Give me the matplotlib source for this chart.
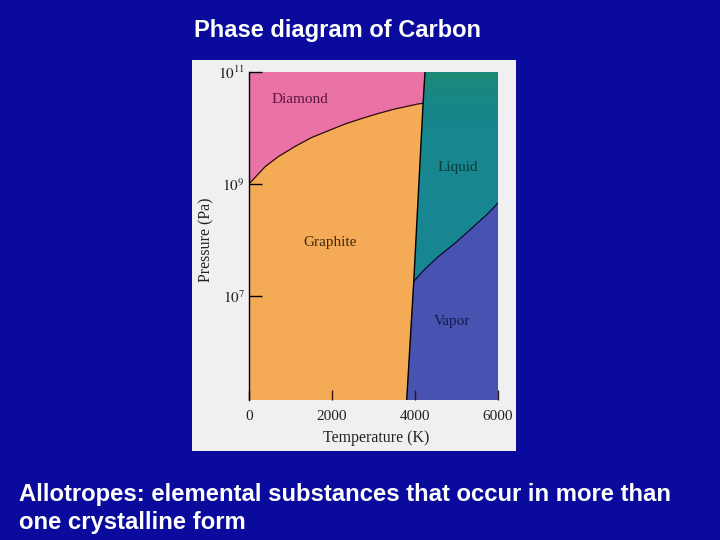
import numpy as np
import matplotlib
matplotlib.use("Agg")
import matplotlib.pyplot as plt
from matplotlib.patches import Polygon, Rectangle

# -------------------------
# data (temperature in K, log10 of pressure in Pa)
T_diamond = [0, 390, 710, 1110, 1510, 1910, 2310, 2720, 3120, 3520, 4080, 4195]
logP_diamond = [9.0, 9.31, 9.49, 9.67, 9.83, 9.95, 10.07, 10.17, 10.26, 10.34, 10.43, 10.44]

T_melt = [4241, 4195, 3970]
logP_melt = [11.0, 10.44, 7.26]

T_vapor = [3970, 4240, 4560, 4960, 5370, 5770, 6000]
logP_vapor = [7.26, 7.48, 7.70, 7.94, 8.21, 8.48, 8.66]

T_sublim_bottom = 3800  # where the graphite/vapor line meets the bottom

phase_names = ["Diamond", "Graphite", "Liquid", "Vapor"]
label_T = [1230, 1950, 5040, 4890]
label_logP = [10.50, 7.95, 9.29, 6.54]

xticks = [0, 2000, 4000, 6000]
yticks_exp = [7, 9, 11]

# -------------------------
bg = "#0A0A9C"
panel = "#F0F0F3"
c_diamond = "#EA72A4"
c_graphite = "#F5AA55"
c_liquid = "#178784"
c_vapor = "#4852B0"

plt.rcParams["font.family"] = ["Liberation Serif", "DejaVu Serif"]
plt.rcParams["mathtext.fontset"] = "stix"

fig = plt.figure(figsize=(7.2, 5.4), dpi=100, facecolor=bg)

# light panel behind the diagram
fig.patches.append(Rectangle((192 / 720, 1 - 451 / 540), 324 / 720, 391 / 540,
                             transform=fig.transFigure, facecolor=panel,
                             edgecolor="none", zorder=-5))

ax = fig.add_axes([249 / 720, 1 - 400 / 540, 249 / 720, 328 / 540])
ax.set_facecolor("none")
ax.set_zorder(2)

P_low = 10 ** 5.14
P_top = 1e11
Pd = [10 ** v for v in logP_diamond]
Pm = [10 ** v for v in logP_melt]
Pv = [10 ** v for v in logP_vapor]

# graphite
graphite = [(0, P_low)] + list(zip(T_diamond, Pd)) + [(T_melt[2], Pm[2]), (T_sublim_bottom, P_low)]
ax.add_patch(Polygon(graphite, closed=True, facecolor=c_graphite, edgecolor="none"))
# diamond
diamond = list(zip(T_diamond, Pd)) + [(T_melt[0], P_top), (0, P_top)]
ax.add_patch(Polygon(diamond, closed=True, facecolor=c_diamond, edgecolor="none"))
# liquid (with a slight vertical colour gradient)
liquid = [(T_melt[0], Pm[0]), (T_melt[1], Pm[1]), (T_melt[2], Pm[2])] + list(zip(T_vapor, Pv))[1:] + [(6000, P_top)]
liq_patch = Polygon(liquid, closed=True, facecolor=c_liquid, edgecolor="none")
ax.add_patch(liq_patch)
grad = np.linspace(0, 1, 100).reshape(-1, 1)
cmap = matplotlib.colors.LinearSegmentedColormap.from_list("liq", ["#178690", "#1C8A70"])
im = ax.imshow(grad, cmap=cmap, aspect="auto", origin="lower",
               extent=(3900, 6000, 10 ** 7.2, P_top), zorder=1)
im.set_clip_path(liq_patch)
# vapor
vapor = list(zip(T_vapor, Pv)) + [(6000, P_low), (T_sublim_bottom, P_low)]
ax.add_patch(Polygon(vapor, closed=True, facecolor=c_vapor, edgecolor="none", zorder=1))

# phase boundaries
ax.plot(T_diamond, Pd, color="#2a0a10", lw=0.9, zorder=3)
ax.plot(T_melt, Pm, color="black", lw=1.0, zorder=3)
ax.plot([T_melt[2], T_sublim_bottom], [Pm[2], P_low], color="black", lw=1.0, zorder=3)
ax.plot(T_vapor, Pv, color="#0a0a30", lw=0.9, zorder=3)

label_colors = ["#5A1840", "#3A2A12", "#0A3A3A", "#101A50"]
for name, t, lp, c in zip(phase_names, label_T, label_logP, label_colors):
    ax.text(t, 10 ** lp, name, fontsize=11, color=c, ha="center", va="center", zorder=4)

ax.set_xlim(0, 6000)
ax.set_yscale("log")
ax.set_ylim(P_low, P_top)

ax.set_xticks(xticks)
ax.set_xticklabels([str(v) for v in xticks])
ax.set_yticks([10.0 ** e for e in yticks_exp])
ax.set_yticklabels([r"$10^{%d}$" % e for e in yticks_exp])
ax.yaxis.set_minor_locator(matplotlib.ticker.NullLocator())
ax.tick_params(axis="x", direction="in", length=7, width=1, color="#3a1010",
               labelsize=11, labelcolor="#222222", pad=7)
ax.tick_params(axis="y", direction="in", length=9, width=1, color="black",
               labelsize=11, labelcolor="#222222", pad=3)

for s in ["top", "right", "bottom"]:
    ax.spines[s].set_visible(False)
ax.spines["left"].set_color("black")
ax.spines["left"].set_linewidth(1.0)
ax.spines["left"].set_zorder(5)

ax.set_xlabel("Temperature (K)", fontsize=11.5, color="#222222")
ax.xaxis.set_label_coords(0.51, -0.09)
ax.set_ylabel("Pressure (Pa)", fontsize=11.5, color="#222222")
ax.yaxis.set_label_coords(-0.14, 0.49)

# slide texts
fig.text(338 / 720, 1 - 31 / 540, "Phase diagram of Carbon", color="white",
         fontsize=17, fontweight="bold", ha="center", va="center",
         family=["Liberation Sans", "DejaVu Sans"])
fig.text(19 / 720, 1 - 494 / 540, "Allotropes: elemental substances that occur in more than",
         color="white", fontsize=17.2, fontweight="bold", ha="left", va="center",
         family=["Liberation Sans", "DejaVu Sans"])
fig.text(19 / 720, 1 - 522 / 540, "one crystalline form",
         color="white", fontsize=17.2, fontweight="bold", ha="left", va="center",
         family=["Liberation Sans", "DejaVu Sans"])

fig.savefig("out.png", dpi=100, facecolor=bg)
